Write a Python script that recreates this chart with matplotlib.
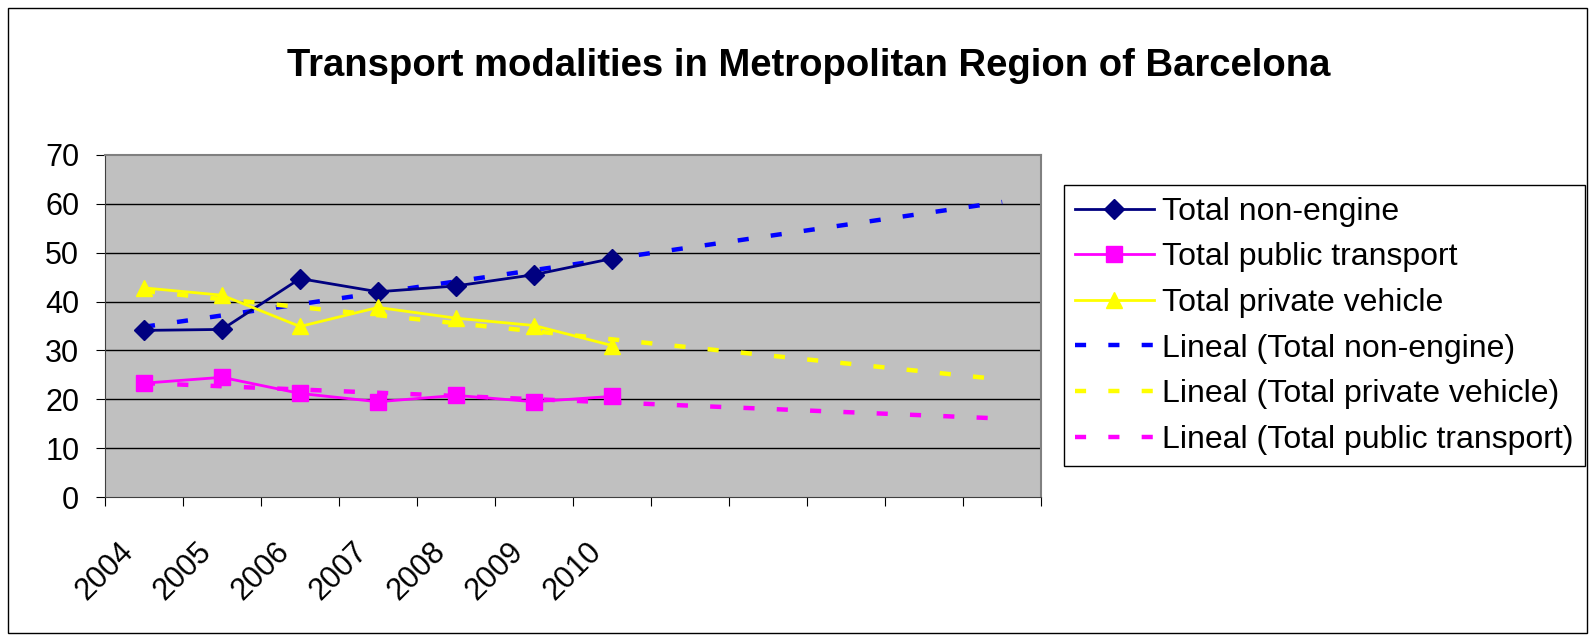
import numpy as np
import matplotlib.pyplot as plt
import matplotlib.transforms as mtransforms
from matplotlib.patches import Rectangle

plt.rcParams['font.family'] = ['Liberation Sans', 'DejaVu Sans']

years = ["2004", "2005", "2006", "2007", "2008", "2009", "2010"]
non_engine = [34.1, 34.3, 44.7, 42.0, 43.2, 45.5, 48.8]
public_transport = [23.3, 24.5, 21.2, 19.5, 20.8, 19.5, 20.6]
private_vehicle = [42.8, 41.3, 34.9, 38.8, 36.6, 35.1, 31.0]
n_slots = 12  # trend lines are forecast up to 12 categories

fig = plt.figure(figsize=(15.95, 6.43), dpi=100)
fig.patches.append(Rectangle((0.005, 0.016), 0.99, 0.972, transform=fig.transFigure,
                             fill=False, edgecolor='black', linewidth=1))
ax = fig.add_axes([0.0658, 0.227, 0.587, 0.532])
ax.set_facecolor('#C0C0C0')

x = np.arange(len(years))
xt = np.arange(n_slots)

ax.plot(x, non_engine, color='#000080', marker='D', markersize=10, linewidth=2,
        label='Total non-engine', zorder=4)
ax.plot(x, public_transport, color='#FF00FF', marker='s', markersize=11, linewidth=2,
        label='Total public transport', zorder=4)
ax.plot(x, private_vehicle, color='#FFFF00', marker='^', markersize=12, linewidth=2,
        label='Total private vehicle', zorder=4)

def trend(vals):
    k, b = np.polyfit(x, vals, 1)
    return k * xt + b

dash = (0, (2.5, 5))
ax.plot(xt, trend(non_engine), color='#0000FF', linestyle=dash, linewidth=3.2,
        label='Lineal (Total non-engine)', zorder=3)
ax.plot(xt, trend(private_vehicle), color='#FFFF00', linestyle=dash, linewidth=3.2,
        label='Lineal (Total private vehicle)', zorder=3)
ax.plot(xt, trend(public_transport), color='#FF00FF', linestyle=dash, linewidth=3.2,
        label='Lineal (Total public transport)', zorder=3)

ax.set_xlim(-0.5, n_slots - 0.5)
ax.set_ylim(0, 70)
ax.set_yticks(range(0, 71, 10))
ax.tick_params(axis='y', labelsize=22, length=6.5, direction='out', pad=12)
for v in range(10, 70, 10):
    ax.axhline(v, color='black', linewidth=1, zorder=1)

ax.set_xticks(np.arange(-0.5, n_slots, 1))
ax.set_xticklabels([])
ax.tick_params(axis='x', which='major', length=6.5, direction='out')
ax.set_xticks(x, minor=True)
ax.set_xticklabels(years, minor=True, rotation=45, ha='right', rotation_mode='anchor', fontsize=22)
ax.tick_params(axis='x', which='minor', length=0, pad=18)
shift = mtransforms.ScaledTranslation(-15 / 100, -25 / 100, fig.dpi_scale_trans)
for lbl in ax.get_xticklabels(minor=True):
    lbl.set_va('center')
    lbl.set_transform(lbl.get_transform() + shift)

for s in ['left', 'bottom']:
    ax.spines[s].set_color('#404040')
for s in ['top', 'right']:
    ax.spines[s].set_color('#808080')
    ax.spines[s].set_linewidth(1.5)

fig.text(0.507, 0.897, 'Transport modalities in Metropolitan Region of Barcelona',
         ha='center', va='center', fontsize=27.5, fontweight='bold')

leg = fig.legend(loc='upper left', bbox_to_anchor=(0.667, 0.712), fontsize=23,
                 frameon=True, fancybox=False, edgecolor='black', framealpha=1,
                 handlelength=2.45, borderpad=0.36, labelspacing=0.49, handletextpad=0.25,
                 borderaxespad=0)
leg.get_frame().set_linewidth(1)

fig.savefig('out.png', dpi=100)
